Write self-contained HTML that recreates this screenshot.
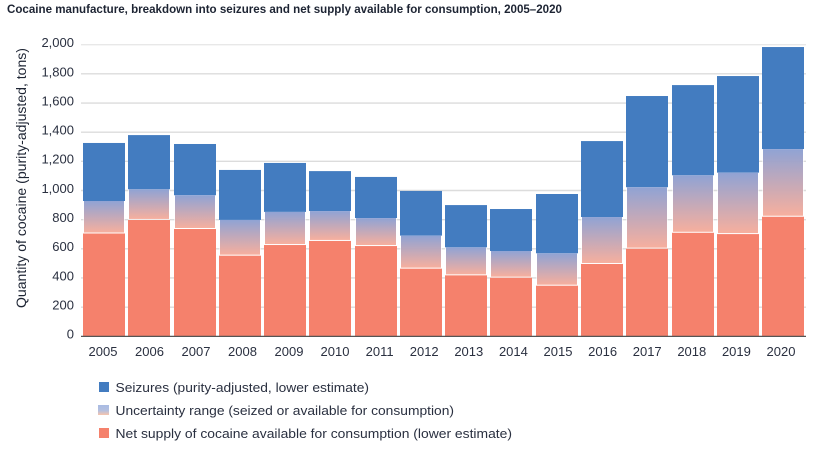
<!DOCTYPE html>
<html>
<head>
<meta charset="utf-8">
<title>Cocaine manufacture</title>
<style>
html,body{margin:0;padding:0;background:#fff;width:825px;height:459px;overflow:hidden}
svg{display:block}
text{font-family:"Liberation Sans",sans-serif}
</style>
</head>
<body>
<svg id="chart" xmlns="http://www.w3.org/2000/svg" width="825" height="459" viewBox="0 0 825 459">
<defs>
<linearGradient id="rangeGrad" x1="0" y1="0" x2="0" y2="1">
<stop offset="0" stop-color="#8a9ed2" stop-opacity="0.95"/>
<stop offset="1" stop-color="#f6ab99" stop-opacity="0.95"/>
</linearGradient>
<linearGradient id="legendGrad" x1="0" y1="0" x2="0" y2="1">
<stop offset="0" stop-color="#a9bbe3"/>
<stop offset="0.55" stop-color="#b4c0e0"/>
<stop offset="1" stop-color="#f8c4ac"/>
</linearGradient>
</defs>
<text x="7" y="13" font-size="11.5" font-weight="700" fill="#1d2433" textLength="555" lengthAdjust="spacingAndGlyphs">Cocaine manufacture, breakdown into seizures and net supply available for consumption, 2005–2020</text>
<text transform="translate(26,178) rotate(-90)" text-anchor="middle" font-size="13.5" fill="#1d2433" textLength="260" lengthAdjust="spacingAndGlyphs">Quantity of cocaine (purity-adjusted, tons)</text>
<g id="grid"></g>
<g id="bars"></g>
<g id="xlabels"></g>
<g id="ylabels"></g>
<line x1="81" x2="806" y1="336.4" y2="336.4" stroke="#555" stroke-width="1.2"/>
<g>
<g>
<rect x="99" y="382" width="10" height="10" fill="#437cc0"/>
<text x="115.5" y="392" font-size="13" fill="#2a3040" textLength="253.5" lengthAdjust="spacingAndGlyphs">Seizures (purity-adjusted, lower estimate)</text>
</g>
<g>
<rect x="98" y="405" width="11" height="10" fill="url(#legendGrad)"/>
<text x="115.5" y="415" font-size="13" fill="#2a3040" textLength="338.5" lengthAdjust="spacingAndGlyphs">Uncertainty range (seized or available for consumption)</text>
</g>
<g>
<rect x="99" y="428" width="10" height="10" fill="#f5816c"/>
<text x="115.5" y="438" font-size="13" fill="#2a3040" textLength="396.5" lengthAdjust="spacingAndGlyphs">Net supply of cocaine available for consumption (lower estimate)</text>
</g>
</g>
</svg>
<script>
var years = ['2005','2006','2007','2008','2009','2010','2011','2012','2013','2014','2015','2016','2017','2018','2019','2020'];
var netSupply = [705,798,736,553,626,654,619,464,418,402,347,496,601,710,701,820];
var uncertainty = [223,210,231,245,227,205,192,226,192,183,222,322,421,394,421,464];
var seizures = [398,372,352,343,336,274,282,307,290,288,407,521,626,619,663,700];
var yTicks = [0,200,400,600,800,1000,1200,1400,1600,1800,2000];
var yTickLabels = ['0','200','400','600','800','1,000','1,200','1,400','1,600','1,800','2,000'];

var NS = 'http://www.w3.org/2000/svg';
function yScale(v){ return 336.3 - v * 0.1458; }
function xScale(i){ return Math.round(83 + i * 45.27); }
// The reference's year labels are not evenly spaced: wider pitch up to 2009, narrower after.
function xLabelScale(i){ return i <= 4 ? 103 + 46.5 * i : 335 + 44.6 * (i - 5); }
var BAR_W = 42;
function mk(tag, attrs, parent){
  var el = document.createElementNS(NS, tag);
  for (var k in attrs) el.setAttribute(k, attrs[k]);
  parent.appendChild(el);
  return el;
}
var gridG = document.getElementById('grid');
var barsG = document.getElementById('bars');
var xG = document.getElementById('xlabels');
var yG = document.getElementById('ylabels');

yTicks.forEach(function(t, i){
  var yy = yScale(t);
  if (t !== 0) {
    var ln = mk('line', {x1:81, x2:806, y1:yy, y2:yy, stroke: t === 2000 ? '#e8e8e8' : '#dcdcdc', 'stroke-width':1.4}, gridG);
    
    
  }
  var lb = mk('text', {x:74, y:yy + 2.4, 'text-anchor':'end', 'font-size':13, fill:'#2a3040'}, yG);
  
  
  lb.textContent = yTickLabels[i];
});

years.forEach(function(year, i){
  var x = xScale(i);
  var yNet = yScale(netSupply[i]);
  var yUnc = yScale(netSupply[i] + uncertainty[i]);
  var yTop = yScale(netSupply[i] + uncertainty[i] + seizures[i]);

  var s = mk('rect', {x:x, y:yTop, width:BAR_W, height:yUnc - yTop, fill:'#437cc0'}, barsG);
  
  

  var halo = mk('rect', {x:x, y:yUnc, width:BAR_W, height:yNet - yUnc, fill:'#fff', 'fill-opacity':0.6}, barsG);
  
  

  var u = mk('rect', {x:x + 1, y:yUnc, width:BAR_W - 2, height:yNet - yUnc - 1, fill:'url(#rangeGrad)'}, barsG);
  
  

  var n = mk('rect', {x:x, y:yNet, width:BAR_W, height:yScale(0) - yNet, fill:'#f5816c'}, barsG);
  
  

  var t = mk('text', {x:xLabelScale(i), y:356, 'text-anchor':'middle', 'font-size':13, fill:'#2a3040'}, xG);
  
  
  t.textContent = year;
});
</script>
</body>
</html>
